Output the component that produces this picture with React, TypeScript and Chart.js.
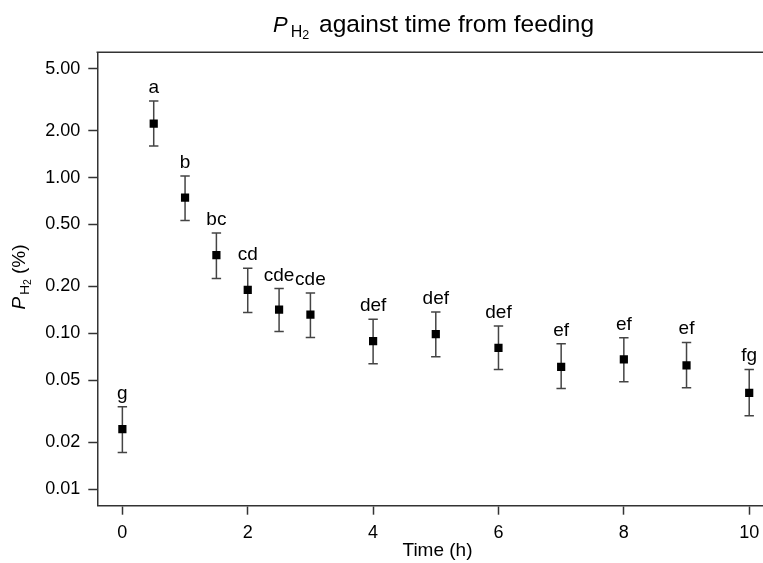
import { useEffect, useRef } from 'react';
import { Chart, registerables } from 'chart.js';

Chart.register(...registerables);

const FONT = '"Liberation Sans", Arial, sans-serif';

const times = [0, 0.5, 1, 1.5, 2, 2.5, 3, 4, 5, 6, 7, 8, 9, 10];
const means = [0.0243, 2.22, 0.744, 0.318, 0.19, 0.142, 0.132, 0.0893, 0.099, 0.0809, 0.0611, 0.0681, 0.0624, 0.0416];
const upperCI = [0.0338, 3.1, 1.024, 0.4415, 0.262, 0.194, 0.182, 0.1235, 0.137, 0.1114, 0.0858, 0.0937, 0.0875, 0.0588];
const lowerCI = [0.0172, 1.595, 0.53, 0.225, 0.1363, 0.103, 0.0943, 0.0638, 0.0708, 0.0588, 0.0444, 0.049, 0.0448, 0.0296];
const groupLetters = ['g', 'a', 'b', 'bc', 'cd', 'cde', 'cde', 'def', 'def', 'def', 'ef', 'ef', 'ef', 'fg'];
const yTickValues = [0.01, 0.02, 0.05, 0.1, 0.2, 0.5, 1, 2, 5];
const xTickValues = [0, 2, 4, 6, 8, 10];

const AXIS_COLOR = '#333333';

const decorPlugin = {
  id: 'decor',
  beforeDatasetsDraw(chart: any) {
    const { ctx, scales } = chart;
    const xs = scales.x;
    const ys = scales.y;
    ctx.save();
    ctx.strokeStyle = '#444444';
    ctx.lineWidth = 1.5;
    times.forEach((t, i) => {
      const px = xs.getPixelForValue(t);
      const pu = ys.getPixelForValue(upperCI[i]);
      const pl = ys.getPixelForValue(lowerCI[i]);
      ctx.beginPath();
      ctx.moveTo(px, pu);
      ctx.lineTo(px, pl);
      ctx.moveTo(px - 4.7, pu);
      ctx.lineTo(px + 4.7, pu);
      ctx.moveTo(px - 4.7, pl);
      ctx.lineTo(px + 4.7, pl);
      ctx.stroke();
    });
    ctx.restore();
  },
  afterDraw(chart: any) {
    const { ctx, scales, chartArea } = chart;
    const xs = scales.x;
    const ys = scales.y;
    ctx.save();
    // top border of the box
    ctx.strokeStyle = AXIS_COLOR;
    ctx.lineWidth = 1.5;
    ctx.beginPath();
    ctx.moveTo(chartArea.left - 0.75, chartArea.top);
    ctx.lineTo(chartArea.right + 2, chartArea.top);
    ctx.stroke();

    // group letters
    ctx.fillStyle = '#000';
    ctx.textAlign = 'center';
    ctx.textBaseline = 'alphabetic';
    ctx.font = `19px ${FONT}`;
    times.forEach((t, i) => {
      const px = xs.getPixelForValue(t);
      const pu = ys.getPixelForValue(upperCI[i]);
      ctx.fillText(groupLetters[i], px, pu - 8);
    });

    // main title
    ctx.textAlign = 'left';
    let x = 273;
    const by = 31.7;
    ctx.font = `italic 22px ${FONT}`;
    ctx.fillText('P', x, by);
    x += ctx.measureText('P').width + 3;
    ctx.font = `16px ${FONT}`;
    ctx.fillText('H', x, by + 5);
    x += ctx.measureText('H').width;
    ctx.font = `12.5px ${FONT}`;
    ctx.fillText('2', x, by + 7.6);
    ctx.font = `24.5px ${FONT}`;
    ctx.fillText('against time from feeding', 319, by);

    // x-axis title
    ctx.textAlign = 'center';
    ctx.font = `19px ${FONT}`;
    ctx.fillText('Time (h)', 437.5, 556);

    // y-axis title (rotated)
    ctx.save();
    ctx.translate(25, 277);
    ctx.rotate(-Math.PI / 2);
    ctx.textAlign = 'left';
    const parts = [
      { t: 'P', f: `italic 19px ${FONT}`, dy: 0, gap: 2 },
      { t: 'H', f: `13.5px ${FONT}`, dy: 4, gap: 0 },
      { t: '2', f: `10.5px ${FONT}`, dy: 6, gap: 0 },
      { t: ' (%)', f: `19px ${FONT}`, dy: 0, gap: 0 },
    ];
    let total = 0;
    parts.forEach((p) => {
      ctx.font = p.f;
      total += ctx.measureText(p.t).width + p.gap;
    });
    let cx = -total / 2;
    parts.forEach((p) => {
      ctx.font = p.f;
      ctx.fillText(p.t, cx, p.dy);
      cx += ctx.measureText(p.t).width + p.gap;
    });
    ctx.restore();

    ctx.restore();
  },
};

export default function App() {
  const canvasRef = useRef<HTMLCanvasElement | null>(null);

  useEffect(() => {
    const canvas = canvasRef.current;
    if (!canvas) return;
    const chart = new Chart(canvas, {
      type: 'scatter',
      data: {
        datasets: [
          {
            data: times.map((t, i) => ({ x: t, y: means[i] })),
            pointStyle: 'rect',
            pointRadius: 5.8,
            pointHoverRadius: 5.8,
            backgroundColor: '#000',
            borderColor: '#000',
            borderWidth: 0,
          },
        ],
      },
      options: {
        animation: false,
        responsive: false,
        devicePixelRatio: 1,
        layout: { autoPadding: false, padding: { top: 52.3, left: 0, right: 0, bottom: 0 } },
        plugins: {
          legend: { display: false },
          tooltip: { enabled: false },
          title: { display: false },
        },
        scales: {
          x: {
            type: 'linear',
            min: -0.4,
            max: 10.22,
            afterBuildTicks: (s: any) => {
              s.ticks = xTickValues.map((v) => ({ value: v }));
            },
            afterFit: (s: any) => {
              s.height = 57.3;
              s.paddingRight = 0;
              s.paddingLeft = 0;
            },
            ticks: {
              color: '#000',
              font: { size: 18, family: FONT },
              padding: 8,
              maxRotation: 0,
              autoSkip: false,
              callback: (v: any) => String(v),
            },
            grid: {
              drawOnChartArea: false,
              drawTicks: true,
              tickLength: 9,
              tickColor: AXIS_COLOR,
              tickWidth: 1.5,
            },
            border: { display: true, color: AXIS_COLOR, width: 1.5 },
          },
          y: {
            type: 'logarithmic',
            min: 0.00785,
            max: 6.36,
            afterBuildTicks: (s: any) => {
              s.ticks = yTickValues.map((v) => ({ value: v }));
            },
            afterFit: (s: any) => {
              s.width = 97.3;
              s.paddingTop = 0;
              s.paddingBottom = 0;
            },
            ticks: {
              color: '#000',
              font: { size: 18, family: FONT },
              padding: 8,
              autoSkip: false,
              callback: (v: any) => Number(v).toFixed(2),
            },
            grid: {
              drawOnChartArea: false,
              drawTicks: true,
              tickLength: 9,
              tickColor: AXIS_COLOR,
              tickWidth: 1.5,
            },
            border: { display: true, color: AXIS_COLOR, width: 1.5 },
          },
        },
      },
      plugins: [decorPlugin],
    });
    return () => chart.destroy();
  }, []);

  return (
    <div style={{ position: 'fixed', left: 0, top: 0, width: 763, height: 563, background: '#fff' }}>
      <canvas ref={canvasRef} width={763} height={563} style={{ display: 'block', width: 763, height: 563 }} />
    </div>
  );
}
